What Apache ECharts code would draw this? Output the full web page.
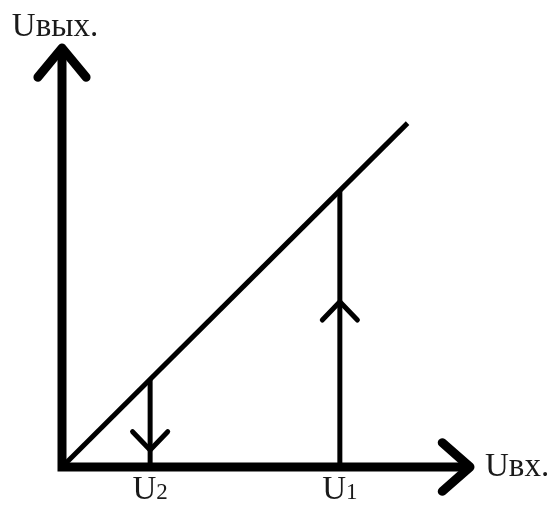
<!DOCTYPE html>
<html>
<head>
<meta charset="utf-8">
<script src="https://cdn.jsdelivr.net/npm/echarts@6/dist/echarts.min.js"></script>
<style>
  html, body { margin: 0; padding: 0; background: #fff; }
</style>
</head>
<body>
<div id="myChart" style="width:553px;height:507px;"></div>
<script>
// значения схемы (условные единицы, масштаб одинаковый по обеим осям)
var xMin = -1.5;
var xMax = 10;
var yMax = 10.32;
var uLevels = [2.16, 6.81];          // U2, U1
var uSubs = ['2', '1'];
var uArrowY = [0.42, 4.07];          // где стоят стрелки на вертикалях
var uArrowDir = [-1, 1];             // вниз у U2, вверх у U1
var lineEnd = [8.47, 8.47];          // конец характеристики Uвых = Uвх
var axisNames = ['Uвх.', 'Uвых.'];

var font = 'Liberation Serif';
var ink = '#000';
var textInk = '#1a1a1a';

// стрелка-галочка: остриё в (x, y)
function chevronV(x, y, dir, half, len) {
  return [[x - half, y - dir * len], [x, y], [x + half, y - dir * len]];
}
function chevronH(x, y, half, len) {
  return [[x - len, y + half], [x, y], [x - len, y - half]];
}

function lineSeries(data, width, cap, join) {
  return {
    type: 'line',
    data: data,
    symbol: 'none',
    clip: false,
    silent: true,
    animation: false,
    lineStyle: { color: ink, width: width, cap: cap || 'round', join: join || 'round' }
  };
}

var series = [];
// оси
series.push(lineSeries([[0, yMax], [0, 0], [xMax, 0]], 9, 'butt', 'miter'));
series.push(lineSeries(chevronV(0, yMax, 1, 0.59, 0.72), 9));
series.push(lineSeries(chevronH(xMax, 0, 0.6, 0.68), 9));
// характеристика
series.push(lineSeries([[0, 0], lineEnd], 5, 'butt'));
// вертикали U2, U1 со стрелками
uLevels.forEach(function (u, i) {
  series.push(lineSeries([[u, 0], [u, u]], 5, 'butt'));
  series.push(lineSeries(chevronV(u, uArrowY[i], uArrowDir[i], 0.43, 0.45), 5));
});

var myChart = echarts.init(document.getElementById('myChart'));
myChart.setOption({
  backgroundColor: '#fff',
  // 40.8 px на единицу, начало координат в (62, 469)
  grid: { left: 62 + xMin * 40.8, right: 83, top: 48, bottom: 38 },
  xAxis: {
    type: 'value',
    min: xMin,
    max: xMax,
    splitLine: { show: false },
    axisLine: { show: false },
    axisTick: { show: false },
    name: axisNames[0],
    nameLocation: 'end',
    nameGap: 15,
    nameTextStyle: { fontFamily: font, fontSize: 33, color: textInk, padding: [0, 0, 8, 0] },
    axisLabel: {
      customValues: uLevels,
      margin: 7,
      formatter: function (v) {
        var i = uLevels.indexOf(v);
        return '{u|U}{s|' + uSubs[i] + '}';
      },
      rich: {
        u: { fontFamily: font, fontSize: 33, color: textInk },
        s: { fontFamily: font, fontSize: 23, color: textInk, padding: [5, 0, 0, 0] }
      }
    }
  },
  yAxis: {
    type: 'value',
    min: 0,
    max: yMax,
    splitLine: { show: false },
    axisLine: { show: false },
    axisTick: { show: false },
    axisLabel: { show: false },
    name: axisNames[1],
    nameLocation: 'end',
    nameGap: 4,
    nameTextStyle: { fontFamily: font, fontSize: 33, color: textInk, align: 'center', padding: [0, 14, 0, 0] }
  },
  series: series
});
</script>
</body>
</html>
